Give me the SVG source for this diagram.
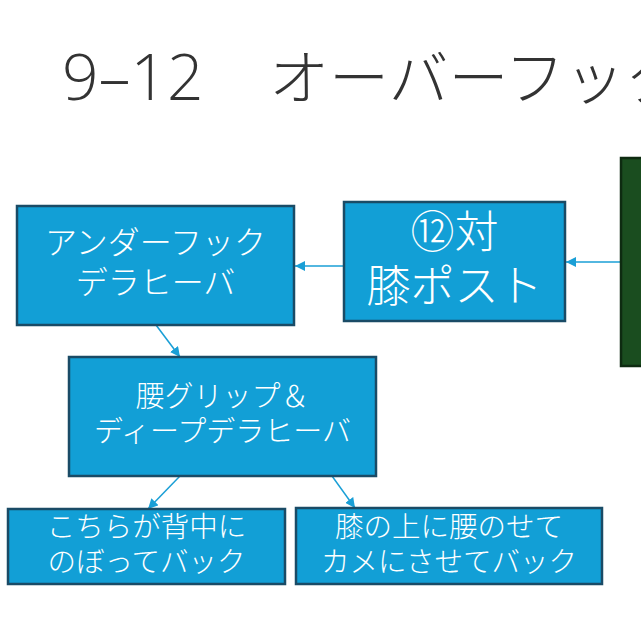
<svg xmlns="http://www.w3.org/2000/svg" width="641" height="638" viewBox="0 0 641 638">
<defs>
<style>
.box{fill:#129fd6;stroke:#1a4b66;stroke-width:2.5}
.green{fill:#1a4d1f;stroke:#0e2b11;stroke-width:2.5}
.t{fill:#ffffff;font-family:"Noto Sans CJK JP","Noto Sans",sans-serif;font-weight:300;text-anchor:middle}
.title{fill:#333333;font-family:"Open Sans","Noto Sans CJK JP",sans-serif;font-weight:300}
.conn{stroke:#1a9fd6;stroke-width:1.5;fill:none}
</style>
<marker id="ah" viewBox="0 0 10 10" refX="10" refY="5" markerWidth="10" markerHeight="10" markerUnits="userSpaceOnUse" orient="auto">
<path d="M0,0 L10,5 L0,10 z" fill="#1a9fd6"/>
</marker>
</defs>
<rect width="641" height="638" fill="#ffffff"/>
<text class="title" x="62" y="100" font-size="60"><tspan font-size="64">9–12</tspan><tspan x="209">　オーバーフック</tspan></text>
<g id="conns">
<line class="conn" x1="620" y1="262" x2="566" y2="262" marker-end="url(#ah)"/>
<line class="conn" x1="344" y1="266" x2="295" y2="266" marker-end="url(#ah)"/>
<line class="conn" x1="156" y1="325" x2="180" y2="357" marker-end="url(#ah)"/>
<line class="conn" x1="180" y1="476" x2="148" y2="509" marker-end="url(#ah)"/>
<line class="conn" x1="332" y1="476" x2="355" y2="508" marker-end="url(#ah)"/>
</g>
<g id="node-green">
<rect class="green" x="621" y="158" width="40" height="208"/>
</g>
<g id="node-post">
<rect class="box" x="344" y="202" width="221" height="119"/>
<text class="t" x="454.5" y="248" font-size="44">⑫対</text>
<text class="t" x="454.5" y="302" font-size="44">膝ポスト</text>
</g>
<g id="node-underhook">
<rect class="box" x="17" y="206" width="277" height="119"/>
<text class="t" x="155.5" y="254" font-size="32">アンダーフック</text>
<text class="t" x="155.5" y="294" font-size="32">デラヒーバ</text>
</g>
<g id="node-grip">
<rect class="box" x="69" y="357" width="307" height="119"/>
<text class="t" x="222.5" y="407" font-size="29">腰グリップ＆</text>
<text class="t" x="222.5" y="442" font-size="29">ディープデラヒーバ</text>
</g>
<g id="node-back1">
<rect class="box" x="8" y="509" width="277" height="75"/>
<text class="t" x="146.5" y="537" font-size="28.5">こちらが背中に</text>
<text class="t" x="146.5" y="572" font-size="28.5">のぼってバック</text>
</g>
<g id="node-back2">
<rect class="box" x="296" y="508" width="306" height="76"/>
<text class="t" x="449" y="537" font-size="28.5">膝の上に腰のせて</text>
<text class="t" x="449" y="572" font-size="28.5">カメにさせてバック</text>
</g>
</svg>
